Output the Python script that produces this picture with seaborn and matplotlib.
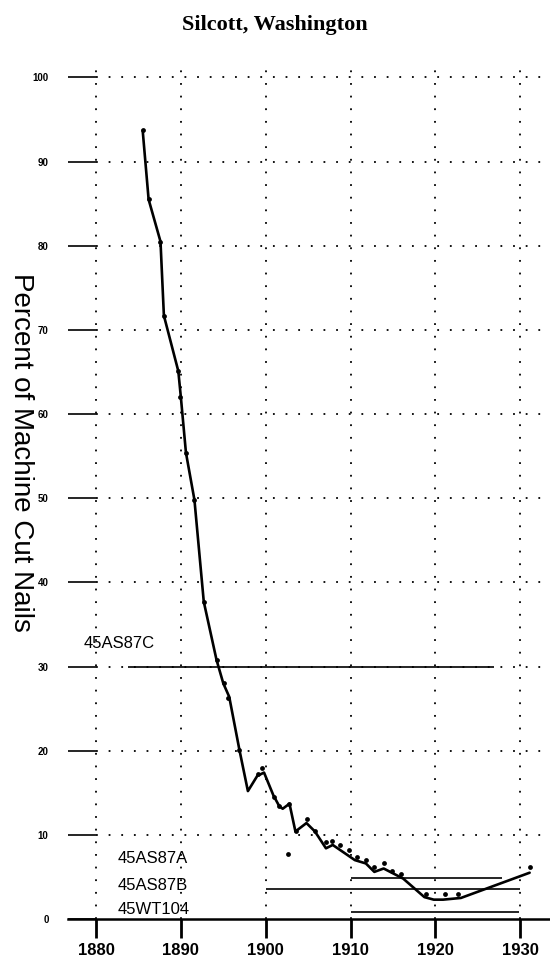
import matplotlib
matplotlib.use("Agg")
import matplotlib.pyplot as plt
import seaborn as sns
import pandas as pd

# ---- data ----
line_years = [1885.5, 1886.2, 1887.6, 1888.0, 1889.7, 1890.0, 1890.6, 1891.6, 1892.7,
              1894.2, 1895.0, 1895.7, 1896.9, 1897.9, 1899.0, 1899.8, 1900.9, 1901.6,
              1902.0, 1902.8, 1903.5, 1904.8, 1905.8, 1907.1, 1907.9, 1910.5, 1911.8,
              1912.8, 1913.9, 1916.2, 1918.7, 1919.8, 1920.9, 1923.0, 1931.1]
line_vals = [93.7, 85.5, 80.5, 71.7, 65.1, 62.0, 55.4, 49.8, 37.7,
             30.8, 28.0, 26.4, 20.1, 15.2, 17.0, 17.4, 14.7, 13.4,
             13.1, 13.7, 10.4, 11.4, 10.4, 8.4, 8.8, 7.0, 6.6,
             5.6, 6.0, 4.8, 2.6, 2.3, 2.3, 2.5, 5.5]

dot_years = [1885.5, 1886.2, 1887.6, 1888.0, 1889.7, 1889.9, 1890.6, 1891.6, 1892.7,
             1894.2, 1895.1, 1895.6, 1896.9, 1899.1, 1899.6, 1901.0, 1901.6, 1902.8,
             1902.6, 1903.6, 1904.9, 1905.8, 1907.1, 1907.8, 1908.8, 1909.8, 1910.7,
             1911.8, 1912.8, 1913.9, 1914.9, 1916.0, 1918.9, 1921.1, 1922.7, 1931.1]
dot_vals = [93.7, 85.5, 80.5, 71.7, 65.1, 62.0, 55.4, 49.8, 37.7,
            30.8, 28.0, 26.3, 20.1, 17.2, 17.9, 14.5, 13.4, 13.7,
            7.7, 10.4, 11.9, 10.4, 9.1, 9.3, 8.8, 8.2, 7.4,
            7.0, 6.2, 6.7, 5.7, 5.3, 3.0, 3.0, 3.0, 6.2]

site_names = ["45AS87C", "45AS87A", "45AS87B", "45WT104"]
site_start = [1883.8, 1910.0, 1900.0, 1910.0]
site_end = [1926.9, 1927.9, 1930.0, 1929.9]
site_value = [30.0, 4.9, 3.6, 0.8]

x_ticks = [1880, 1890, 1900, 1910, 1920, 1930]
y_ticks = [0, 10, 20, 30, 40, 50, 60, 70, 80, 90, 100]

title = "Silcott, Washington"
ylabel = "Percent of Machine Cut Nails"

# ---- plot ----
sns.set_theme(style="white")
plt.rcParams["font.family"] = ["Liberation Sans", "DejaVu Sans"]
plt.rcParams["text.color"] = "black"
plt.rcParams["xtick.color"] = "black"
plt.rcParams["ytick.color"] = "black"

fig = plt.figure(figsize=(5.5, 9.6), dpi=100)
ax = fig.add_axes([68 / 550, 41 / 960, 482 / 550, 850 / 960])

XMIN, XMAX = 1876.7, 1933.5
ax.set_xlim(XMIN, XMAX)
ax.set_ylim(0, 101)

dotted = (0, (1, 6))
ax.vlines(x_ticks, 0, 101, colors="black", linestyles=dotted, linewidth=1.3, zorder=1)
ax.hlines(y_ticks[1:], x_ticks[0], XMAX, colors="black", linestyles=dotted, linewidth=1.3, zorder=1)

df_line = pd.DataFrame({"year": line_years, "pct": line_vals})
df_dot = pd.DataFrame({"year": dot_years, "pct": dot_vals})
sns.lineplot(data=df_line, x="year", y="pct", color="black", linewidth=1.9,
             sort=False, ax=ax, zorder=3)
sns.scatterplot(data=df_dot, x="year", y="pct", color="black", s=12,
                edgecolor="black", linewidth=0, ax=ax, zorder=4)

ax.hlines(site_value, site_start, site_end, colors="black", linewidth=1.2, zorder=2)

label_pos = [(1878.5, 32.7), (1882.6, 7.2), (1882.6, 4.0), (1882.6, 1.1)]
for name, (lx, ly) in zip(site_names, label_pos):
    ax.text(lx, ly, name, fontsize=12, ha="left", va="center", color="black")

ax.set_xticks(x_ticks)
ax.set_xticklabels([str(t) for t in x_ticks], fontsize=12, fontweight="bold")
ax.set_yticks(y_ticks)
ax.set_yticklabels([str(t) for t in y_ticks], fontsize=7, fontweight="bold")
ax.tick_params(axis="y", direction="in", length=20, width=1.2, pad=14, left=True, colors="black")
ax.tick_params(axis="x", direction="out", length=14, width=2, pad=3, bottom=True, colors="black")

for s in ["left", "right", "top"]:
    ax.spines[s].set_visible(False)
ax.spines["bottom"].set_linewidth(1.8)
ax.spines["bottom"].set_color("black")
ax.set_xlabel("")
ax.set_ylabel("")

fig.text(0.5, 1 - 25 / 960, title, ha="center", va="center", fontsize=16,
         fontweight="bold", color="black", family=["Liberation Serif", "DejaVu Serif"])
fig.text(21 / 550, 1 - 452 / 960, ylabel, ha="center", va="center", fontsize=20,
         rotation=-90, color="black", family=["Liberation Sans", "DejaVu Sans"])

fig.savefig("out.png", dpi=100)
